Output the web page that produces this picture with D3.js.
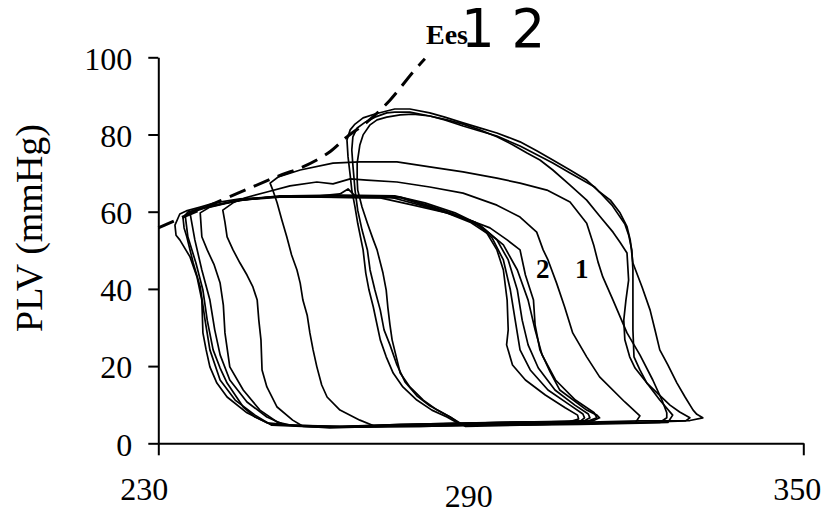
<!DOCTYPE html>
<html>
<head>
<meta charset="utf-8">
<script src="https://cdn.jsdelivr.net/npm/d3@7"></script>
<style>
  html, body { margin: 0; padding: 0; background: #fff; }
  svg { display: block; }
</style>
</head>
<body>
<svg id="chart" width="823" height="512"></svg>
<script>
// ---------- DATA (volume, PLV mmHg) ----------
const yTicks = [0, 20, 40, 60, 80, 100];
const xTickLabels = [230, 290, 350];
const xTickMarks = [230, 350];
const yTitle = "PLV (mmHg)";
const eesLabel = "Ees";
const topNote = "1 2";
const loopLabels = ["2", "1"];

const eesV = [230.0, 252.1, 256.9, 261.6, 265.1, 268.8, 273.1, 277.4, 279.6];
const eesP = [55.8, 69.1, 71.6, 75.2, 79.4, 83.2, 88.9, 96.2, 99.6];

const loop1 = [[286.1,4.9],[297.3,5.2],[308.4,5.4],[319.6,5.8],[328.9,5.9],[331.3,6.6],[330.2,7.5],[329.5,8.6],[328.0,12.0],[326.5,15.6],[324.8,20.3],[323.3,24.2],[322.4,29.4],[321.5,34.5],[320.0,40.5],[318.3,46.7],[317.8,52.7],[317.2,56.1],[315.9,59.7],[314.1,63.0],[312.1,65.1],[309.7,68.2],[306.6,70.8],[303.4,73.4],[300.4,75.8],[297.3,78.1],[293.0,80.4],[289.8,81.7],[286.7,83.0],[283.3,84.5],[280.5,85.6],[276.8,86.6],[274.0,86.6],[272.5,86.1],[270.3,85.3],[268.1,84.3],[266.6,82.7],[265.7,81.2],[265.1,78.6],[265.3,74.2],[265.7,69.5],[266.0,65.6],[266.6,61.2],[267.1,57.0],[268.1,50.1],[268.6,44.1],[269.2,39.7],[270.0,35.3],[270.7,30.7],[271.3,26.8],[272.4,22.4],[273.7,18.2],[275.5,14.6],[278.1,11.2],[280.9,8.6],[283.7,6.8]];

const loop2 = [[286.5,4.7],[297.3,4.9],[308.4,5.2],[319.6,5.4],[328.1,5.8],[328.9,6.6],[327.0,8.1],[325.2,9.9],[323.0,12.8],[320.9,15.6],[319.6,19.0],[318.5,22.4],[318.3,29.4],[318.3,37.1],[318.3,44.9],[318.1,50.1],[317.5,54.0],[316.8,56.8],[314.4,61.7],[311.2,66.4],[306.6,70.0],[303.4,72.6],[297.3,77.0],[293.0,79.6],[289.8,80.9],[286.7,82.2],[283.3,83.8],[280.5,84.8],[276.8,85.8],[274.0,85.8],[272.5,85.6],[270.3,84.5],[268.5,83.2],[267.0,81.7],[266.2,79.4],[266.0,76.0],[266.2,72.1],[266.6,65.6],[267.1,60.4],[267.9,55.3],[268.9,50.1],[269.4,44.9],[270.3,39.7],[271.3,34.5],[272.0,29.4],[273.1,25.5],[274.4,20.3],[275.9,15.9],[278.1,12.3],[280.5,9.7],[284.3,6.8]];

const loop3 = [[287.1,4.4],[297.3,4.7],[308.4,4.9],[319.6,5.2],[324.8,5.4],[325.7,7.3],[323.3,11.2],[320.9,15.6],[318.7,19.5],[317.7,22.4],[316.8,26.8],[316.6,31.9],[317.0,37.1],[317.5,42.3],[317.2,49.3],[315.9,52.1],[314.6,54.7],[312.1,58.9],[309.7,63.0],[306.6,66.9],[303.4,70.8],[301.0,73.4],[298.6,75.2],[296.0,77.3],[293.0,79.4],[289.8,81.2],[286.7,82.7],[283.7,83.8],[280.5,84.8],[277.4,85.3],[275.0,85.1],[272.5,84.5],[270.7,83.8],[269.4,82.5],[268.1,79.9],[267.5,77.3],[267.0,72.6],[267.0,68.2],[267.1,65.6],[267.9,61.2],[268.9,57.0],[270.0,52.7],[270.7,50.1],[271.8,44.1],[272.4,39.7],[272.7,35.3],[273.1,30.7],[273.5,26.8],[275.0,18.2],[276.8,14.6],[279.3,11.2],[281.9,8.6],[284.3,6.8]];

const loop4 = [[270.3,4.4],[278.7,4.4],[289.8,4.7],[301.0,4.9],[312.1,5.2],[323.3,5.4],[324.6,6.6],[324.6,7.9],[323.7,11.2],[322.0,16.4],[319.6,22.9],[317.2,28.6],[314.6,37.1],[312.7,43.1],[311.8,47.0],[311.0,51.4],[309.7,57.0],[306.6,62.5],[302.3,65.6],[297.3,67.4],[293.0,68.7],[286.7,70.3],[280.5,71.6],[274.4,72.9],[267.5,72.9],[262.5,72.6],[256.4,70.8],[252.3,69.0],[250.8,67.4],[251.3,65.6],[252.1,62.3],[253.0,57.8],[253.9,53.5],[254.8,48.8],[255.8,44.9],[256.4,41.5],[256.9,37.1],[257.7,33.2],[258.2,28.6],[258.8,24.2],[259.5,19.8],[260.4,15.1],[261.4,12.0],[263.8,8.6],[267.5,6.0]];

const loop5 = [[256.9,4.4],[267.5,4.2],[278.7,4.4],[289.8,4.7],[301.0,4.9],[312.1,5.2],[318.8,5.4],[319.6,7.1],[316.8,10.7],[312.1,17.2],[309.7,22.4],[307.1,28.6],[305.6,35.3],[304.1,41.5],[302.5,47.5],[301.6,50.1],[300.4,54.7],[297.3,58.6],[293.0,61.7],[286.7,64.8],[280.5,66.4],[274.4,67.7],[268.8,68.2],[265.7,68.5],[262.5,67.2],[259.5,67.7],[254.5,66.7],[250.2,65.1],[246.2,63.6],[243.9,62.3],[242.0,60.4],[242.4,57.3],[242.8,53.5],[243.9,50.1],[245.2,46.7],[246.5,43.6],[247.6,40.5],[248.4,37.1],[248.7,31.9],[249.1,26.8],[249.3,19.0],[250.2,14.6],[252.1,9.4],[255.0,6.0]];

const loop6 = [[256.4,4.5],[263.8,4.2],[275.0,4.9],[286.1,5.2],[297.3,5.5],[306.6,5.6],[308.2,6.3],[308.0,7.3],[305.7,9.2],[302.0,12.5],[298.3,16.4],[295.9,20.3],[294.8,25.5],[295.1,29.4],[294.9,37.1],[294.2,44.9],[293.0,50.1],[291.1,54.5],[288.0,57.3],[283.7,59.7],[277.4,61.7],[271.3,63.6],[260.1,63.8],[250.8,63.8],[245.2,63.3],[240.5,62.3],[237.8,61.2],[235.2,60.2],[234.0,59.4],[233.1,56.5],[233.3,53.9],[234.0,52.7],[235.9,48.3],[237.2,43.1],[238.1,37.1],[238.3,28.6],[238.9,24.2],[239.6,19.8],[240.9,15.6],[242.8,12.0],[246.5,7.9],[250.2,5.3]];

const loop7 = [[251.1,4.7],[260.1,4.2],[271.3,4.7],[282.4,5.1],[293.6,5.4],[304.7,5.5],[308.4,5.6],[309.3,6.6],[309.0,7.6],[306.6,9.9],[302.5,13.8],[299.2,19.0],[297.3,24.2],[296.4,31.9],[295.5,39.7],[294.2,47.5],[292.1,53.2],[288.9,57.3],[284.3,59.4],[278.7,61.7],[273.1,63.8],[263.8,64.1],[252.6,64.1],[245.2,63.0],[238.7,61.2],[235.5,59.9],[234.6,58.4],[234.8,55.8],[235.3,53.5],[236.5,46.7],[237.8,40.5],[238.7,31.9],[239.6,24.2],[241.5,16.4],[244.3,11.2],[248.0,7.3]];

const loop8 = [[250.8,5.0],[261.9,4.0],[271.3,4.4],[282.4,4.9],[293.6,5.2],[304.7,5.5],[309.2,5.8],[310.3,6.6],[310.0,7.6],[307.5,9.9],[303.8,13.8],[300.7,19.5],[298.8,25.5],[297.7,31.9],[296.8,39.7],[295.1,47.5],[293.0,52.7],[289.8,56.6],[285.2,59.7],[279.6,62.3],[274.0,64.1],[263.8,64.3],[254.5,64.1],[247.1,63.3],[241.5,62.0],[236.8,60.4],[235.0,59.1],[235.5,53.5],[237.0,46.7],[238.3,39.7],[239.1,31.9],[240.2,24.2],[241.5,19.5],[242.8,15.6],[245.8,9.4],[248.0,6.8]];

const loop9 = [[253.6,4.7],[263.8,4.4],[275.0,4.7],[286.1,5.2],[297.3,5.5],[310.1,5.8],[311.6,6.6],[311.1,7.9],[307.6,11.2],[303.9,16.4],[301.4,22.9],[300.1,29.4],[298.8,37.1],[296.8,44.9],[294.2,51.4],[290.4,55.8],[286.1,58.9],[280.5,61.5],[275.0,63.8],[266.6,64.1],[265.3,65.9],[263.8,64.6],[260.1,64.1],[250.8,63.8],[244.3,62.8],[238.7,61.0],[235.9,59.7],[236.3,56.6],[236.8,52.7],[238.1,44.9],[239.6,37.1],[240.5,29.4],[241.5,22.9],[243.3,16.4],[246.5,10.7],[250.2,6.8]];

const loop10 = [[254.5,4.7],[265.7,4.2],[278.7,4.7],[289.8,5.2],[301.0,5.5],[310.8,5.8],[312.1,6.6],[311.6,7.3],[309.7,8.6],[304.7,13.8],[302.9,18.5],[301.0,24.2],[300.1,30.7],[299.8,37.1],[298.3,43.6],[297.3,50.1],[294.9,52.7],[291.7,55.8],[288.0,57.8],[282.4,60.4],[275.0,63.6],[261.9,63.8],[252.6,63.8],[245.2,63.0],[239.6,61.2],[237.8,59.7],[238.1,53.5],[239.1,50.1],[240.4,46.2],[241.5,41.5],[242.1,35.8],[242.4,28.6],[243.3,19.8],[245.8,13.8],[248.9,8.6],[252.1,5.5]];

const loops = [loop1, loop2, loop3, loop4, loop5, loop6, loop7, loop8, loop9, loop10];

// ---------- CHART ----------
const svg = d3.select("#chart");
const x = d3.scaleLinear().domain([230, 350]).range([158.3, 803.3]);
const y = d3.scaleLinear().domain([0, 100]).range([443.3, 57.3]);

const serif = "'Liberation Serif', 'Times New Roman', serif";

// loops
const line = d3.line().x(d => x(d[0])).y(d => y(d[1]));
svg.append("g").selectAll("path").data(loops).join("path")
  .attr("d", d => line(d) + "Z")
  .attr("fill", "none")
  .attr("stroke", "#000")
  .attr("stroke-width", 1.7)
  .attr("stroke-linejoin", "round");

// Ees dashed line
const eesPts = eesV.map((v, i) => [v, eesP[i]]);
svg.append("path")
  .attr("d", d3.line().x(d => x(d[0])).y(d => y(d[1])).curve(d3.curveCatmullRom)(eesPts))
  .attr("fill", "none")
  .attr("stroke", "#000")
  .attr("stroke-width", 3)
  .attr("stroke-dasharray", "17,9");

// Y axis
const yAxis = svg.append("g")
  .attr("transform", `translate(${x(230)},0)`)
  .call(d3.axisLeft(y).tickValues(yTicks).tickSize(10).tickSizeOuter(0).tickPadding(16));
yAxis.select(".domain").attr("stroke", "#000").attr("stroke-width", 2);
yAxis.selectAll(".tick line").attr("stroke", "#000").attr("stroke-width", 2);
yAxis.selectAll(".tick text")
  .attr("font-family", serif).attr("font-size", 32).attr("fill", "#000").attr("dy", "0.37em");

// X axis
const xAxis = svg.append("g")
  .attr("transform", `translate(0,${y(0)})`)
  .call(d3.axisBottom(x).tickValues(xTickMarks).tickSize(12).tickSizeOuter(0).tickFormat(""));
xAxis.select(".domain").attr("stroke", "#000").attr("stroke-width", 2);
xAxis.selectAll(".tick line").attr("stroke", "#000").attr("stroke-width", 2);

const xLabelNudge = [[-14, 500], [-12, 507], [-6, 500]];
svg.append("g").selectAll("text").data(xTickLabels).join("text")
  .attr("x", (d, i) => x(d) + xLabelNudge[i][0])
  .attr("y", (d, i) => xLabelNudge[i][1])
  .attr("text-anchor", "middle")
  .attr("font-family", serif).attr("font-size", 32).attr("fill", "#000")
  .text(d => d);

// Y title
svg.append("text")
  .attr("transform", "translate(42,228) rotate(-90)")
  .attr("text-anchor", "middle")
  .attr("font-family", serif).attr("font-size", 38).attr("fill", "#000")
  .text(yTitle);

// Ees label
svg.append("text")
  .attr("x", 426).attr("y", 44)
  .attr("font-family", serif).attr("font-weight", "bold").attr("font-size", 28).attr("fill", "#000")
  .text(eesLabel);

// "1 2" note
svg.append("text")
  .attr("x", 461).attr("y", 47)
  .attr("font-family", "'DejaVu Sans', sans-serif").attr("font-size", 53).attr("fill", "#000")
  .text(topNote);

// loop labels
const loopLabelPos = [[536, 278], [575, 278]];
svg.append("g").selectAll("text").data(loopLabels).join("text")
  .attr("x", (d, i) => loopLabelPos[i][0])
  .attr("y", (d, i) => loopLabelPos[i][1])
  .attr("font-family", serif).attr("font-weight", "bold").attr("font-size", 27).attr("fill", "#000")
  .text(d => d);
</script>
</body>
</html>
